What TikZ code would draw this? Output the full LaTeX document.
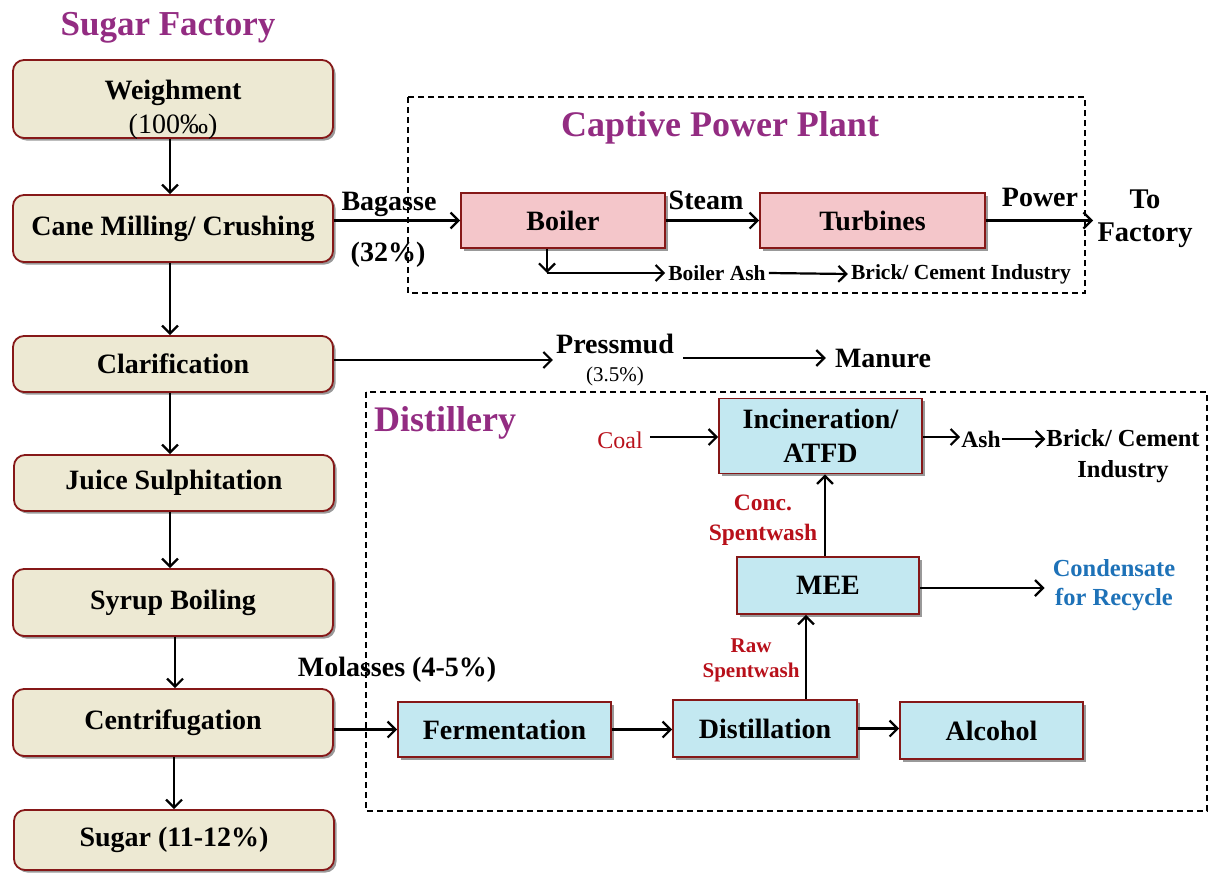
\documentclass[tikz,border=0pt]{standalone}
\usepackage{fontspec}
\setmainfont{Liberation Serif}
\usetikzlibrary{arrows.meta,shadows,calc}
\definecolor{beigefill}{HTML}{EDE9D3}
\definecolor{pinkfill}{HTML}{F4C6CA}
\definecolor{bluefill}{HTML}{C3E8F1}
\definecolor{boxred}{HTML}{861818}
\definecolor{titlepurple}{HTML}{932C82}
\definecolor{labelred}{HTML}{B8101A}
\definecolor{labelblue}{HTML}{1E72B8}
\newcommand\fsz[2]{\fontsize{#1}{#2}\selectfont}
\tikzset{
  basebox/.style={draw=boxred, line width=1.8pt, inner sep=0pt, align=center,
    drop shadow={shadow xshift=2.5pt, shadow yshift=-2.5pt, opacity=.5, fill=black!80}},
  leftbox/.style={basebox, fill=beigefill, rounded corners=11pt, minimum width=320pt},
  pinkbox/.style={basebox, fill=pinkfill},
  bluebox/.style={basebox, fill=bluefill},
  flow/.style={line width=2.2pt, -{Straight Barb[length=8pt,width=16pt,line width=2.2pt]}},
  lbl/.style={inner sep=3pt, align=center},
  area/.style={draw, line width=1.1pt, dash pattern=on 6pt off 4pt},
  titletext/.style={text=titlepurple, font=\bfseries\fsz{35}{40}},
}
\begin{document}
\begin{tikzpicture}[x=1pt,y=-1pt, font=\bfseries\fsz{28}{31}]
\useasboundingbox (0,0) rectangle (1209,875);

% dashed areas
\draw[area] (408,97) rectangle (1085,293);
\draw[area] (366,392) rectangle (1207,811);

% titles
\node[titletext] (tsugar) at (168,28) {Sugar Factory};
\node[titletext, font=\bfseries\fsz{36}{40}] (tcpp) at (720,128) {Captive Power Plant};
\node[titletext, font=\bfseries\fsz{36}{40}] (tdist) at (445,423) {Distillery};

% left column
\node[leftbox, minimum height=78pt] (weigh) at (173,99) {};
\node[lbl] (weightext) at (173,110) {Weighment\\[3pt]{\mdseries (100‰)}};
\node[leftbox, minimum height=67pt] (cane) at (173,228.5) {Cane Milling/ Crushing};
\node[leftbox, minimum height=56pt] (clar) at (173,364) {Clarification};
\node[leftbox, minimum height=56pt] (juice) at (174,483) {Juice Sulphitation};
\node[leftbox, minimum height=67pt] (syrup) at (173,602.5) {Syrup Boiling};
\node[leftbox, minimum height=67pt] (cent) at (173,722.5) {Centrifugation};
\node[leftbox, minimum height=60pt] (sugar) at (174,840) {Sugar (11-12\%)};

\draw[flow] (weigh.south -| 170,0) -- (cane.north -| 170,0);
\draw[flow] (cane.south -| 170,0) -- (clar.north -| 170,0);
\draw[flow] (clar.south -| 170,0) -- (juice.north -| 170,0);
\draw[flow] (juice.south -| 170,0) -- (syrup.north -| 170,0);
\draw[flow] (syrup.south -| 175,0) -- (cent.north -| 175,0);
\draw[flow] (cent.south -| 174,0) -- (sugar.north -| 174,0);

% captive power plant
\node[pinkbox, minimum width=204pt, minimum height=55pt] (boiler) at (563,220.5) {Boiler};
\node[pinkbox, minimum width=225pt, minimum height=55pt] (turb) at (872.5,220.5) {Turbines};
\draw[flow] (cane.east |- boiler.west) -- (boiler.west);
\node[lbl] (bagasse) at (389,204) {Bagasse};
\node[lbl] (bag32) at (388,255) {(32\%)};
\draw[flow] (boiler.east) -- (turb.west);
\node[lbl] (steam) at (706,200) {Steam};
\coordinate (tofac) at (1093,220.5);
\draw[flow] (turb.east) -- (tofac);
\node[lbl] (power) at (1040,197) {Power};
\node[lbl, font=\bfseries\fsz{28.5}{33}] (tofactory) at (1145,218.5) {To\\Factory};
\node[lbl, font=\bfseries\fsz{21.5}{25}] (bash) at (717,273) {Boiler Ash};
\node[lbl, font=\bfseries\fsz{21.5}{25}] (brick1) at (961,274) {Brick/ Cement Industry};
\coordinate (bdrop) at ($(boiler.south)+(-16,0)$);
\coordinate (bcorner) at (bdrop |- bash.west);
\draw[flow] (bdrop) -- (bcorner);
\draw[flow] (bcorner) -- (bash.west);
\draw[flow] (bash.east) -- (brick1.west);

% pressmud
\node[lbl] (press) at (615,360) {Pressmud\\[-3pt]{\mdseries\fsz{21}{24}(3.5\%)}};
\draw[flow] (clar.east |- press.west) -- (press.west);
\node[lbl] (manure) at (883,358) {Manure};
\draw[flow] ($(press.east |- manure.west)+(6,0)$) -- ($(manure.west)+(-6,0)$);

% distillery
\node[bluebox, minimum width=203pt, minimum height=75pt, font=\bfseries\fsz{28}{34}] (atfd) at (820.5,436) {Incineration/\\ATFD};
\node[lbl, text=labelred, font=\fsz{24}{28}] (coal) at (620,440) {Coal};
\draw[flow] ($(coal.east)+(4,-3)$) -- (atfd.west |- 0,437);
\node[lbl, font=\bfseries\fsz{23.5}{28}] (ash) at (981,439) {Ash};
\draw[flow] (atfd.east |- 0,437) -- ($(ash.west)+(2,-2)$);
\node[lbl, font=\bfseries\fsz{24.5}{31}, inner sep=1pt] (brick2) at (1123,456) {Brick/ Cement\\Industry};
\draw[flow] ($(ash.east)+(-2,0)$) -- (brick2.west |- ash.east);

\node[bluebox, minimum width=182pt, minimum height=57pt] (mee) at (828,585.5) {MEE};
\draw[flow] (mee.north -| 825,0) -- (atfd.south -| 825,0);
\node[lbl, text=labelred, font=\bfseries\fsz{23.5}{30}] (conc) at (763,520) {Conc.\\Spentwash};
\node[lbl, text=labelblue, font=\bfseries\fsz{24.5}{29}, inner sep=8pt] (cond) at (1114,585.5) {Condensate\\for Recycle};
\draw[flow] (mee.east |- 0,588) -- (cond.west |- 0,588);

\node[bluebox, minimum width=213pt, minimum height=55pt] (ferm) at (504.5,729.5) {Fermentation};
\node[bluebox, minimum width=184pt, minimum height=57pt] (distn) at (765,728.5) {Distillation};
\node[bluebox, minimum width=183pt, minimum height=57pt] (alc) at (991.5,730.5) {Alcohol};
\draw[flow] (cent.east |- ferm.west) -- (ferm.west);
\node[lbl] (molasses) at (397,670) {Molasses (4-5\%)};
\draw[flow] (ferm.east) -- (distn.west |- ferm.east);
\draw[flow] (distn.east) -- (alc.west |- distn.east);
\coordinate (dup) at ($(distn.north)+(41,0)$);
\draw[flow] (dup) -- (dup |- mee.south);
\node[lbl, text=labelred, font=\bfseries\fsz{21}{25}] (raw) at (751,660) {Raw\\Spentwash};
\end{tikzpicture}
\end{document}
